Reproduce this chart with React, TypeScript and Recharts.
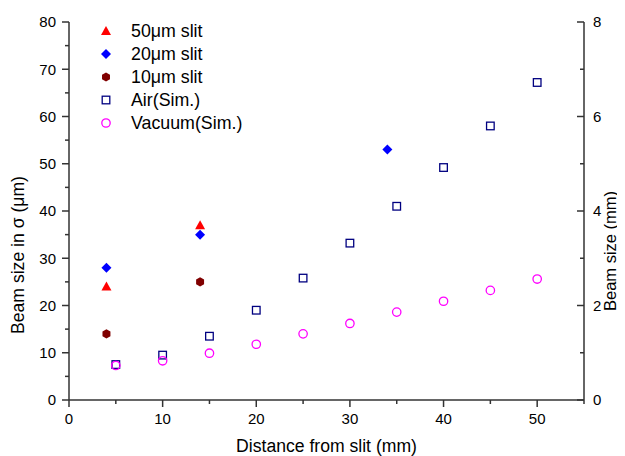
import React from 'react';
import { ScatterChart, Scatter, XAxis, YAxis, Legend } from 'recharts';

// ---- data ----
const seriesNames = ['50μm slit', '20μm slit', '10μm slit', 'Air(Sim.)', 'Vacuum(Sim.)'];

const slit50X = [4, 14];
const slit50Y = [24, 37];
const slit20X = [4, 14, 34];
const slit20Y = [28, 35, 53];
const slit10X = [4, 14];
const slit10Y = [14, 25];

const simX = [5, 10, 15, 20, 25, 30, 35, 40, 45, 50];
const airY = [0.75, 0.95, 1.35, 1.9, 2.58, 3.32, 4.1, 4.92, 5.8, 6.72];
const vacuumY = [0.73, 0.83, 0.99, 1.18, 1.4, 1.62, 1.86, 2.09, 2.32, 2.56];

const xTicks = [0, 5, 10, 15, 20, 25, 30, 35, 40, 45, 50, 55];
const xMajor = [0, 10, 20, 30, 40, 50];
const leftTicks = [0, 5, 10, 15, 20, 25, 30, 35, 40, 45, 50, 55, 60, 65, 70, 75, 80];
const leftMajor = [0, 10, 20, 30, 40, 50, 60, 70, 80];
const rightTicks = [0, 1, 2, 3, 4, 5, 6, 7, 8];
const rightMajor = [0, 2, 4, 6, 8];

const xTitle = 'Distance from slit (mm)';
const leftTitle = 'Beam size in σ (μm)';
const rightTitle = 'Beam size (mm)';

const toPoints = (xs: number[], ys: number[]) => xs.map((x, i) => ({ x, y: ys[i] }));

// ---- styles ----
const FONT = '"Liberation Sans", Arial, Helvetica, sans-serif';
const AXIS = '#333';
const AXW = 1.5;
const RED = '#ff0000';
const BLUE = '#0000ff';
const DARKRED = '#800000';
const NAVY = '#000080';
const MAGENTA = '#ff00ff';

// ---- markers ----
const Tri = ({ cx, cy }: any) => (
  <polygon points={`${cx},${cy - 5} ${cx - 5},${cy + 4} ${cx + 5},${cy + 4}`} fill={RED} />
);
const Dia = ({ cx, cy }: any) => (
  <polygon points={`${cx},${cy - 5} ${cx + 5},${cy} ${cx},${cy + 5} ${cx - 5},${cy}`} fill={BLUE} />
);
const Hex = ({ cx, cy }: any) => {
  const r = 4.6;
  const pts = [0, 60, 120, 180, 240, 300]
    .map((a) => {
      const t = ((a + 30) * Math.PI) / 180;
      return `${cx + r * Math.cos(t)},${cy + r * Math.sin(t)}`;
    })
    .join(' ');
  return <polygon points={pts} fill={DARKRED} />;
};
const Sq = ({ cx, cy }: any) => (
  <rect x={cx - 3.8} y={cy - 3.8} width={7.6} height={7.6} fill="none" stroke={NAVY} strokeWidth={1.3} />
);
const Circ = ({ cx, cy }: any) => (
  <circle cx={cx} cy={cy} r={4.2} fill="none" stroke={MAGENTA} strokeWidth={1.3} />
);
const markers = [Tri, Dia, Hex, Sq, Circ];

// ---- ticks ----
const XTick = (props: any) => {
  const { x, y, payload } = props;
  const v = payload.value;
  const major = xMajor.includes(v);
  return (
    <g>
      <line x1={x} x2={x} y1={y} y2={y + (major ? 7 : 4)} stroke={AXIS} strokeWidth={AXW} />
      {major && (
        <text x={x} y={y + 24} textAnchor="middle" fontSize={15} fontFamily={FONT} fill="#000">
          {v}
        </text>
      )}
    </g>
  );
};

const LeftTick = (props: any) => {
  const { x, y, payload } = props;
  const v = payload.value;
  const major = leftMajor.includes(v);
  return (
    <g>
      <line x1={x - (major ? 7 : 4)} x2={x} y1={y} y2={y} stroke={AXIS} strokeWidth={AXW} />
      {major && (
        <text x={x - 13} y={y} dy="0.35em" textAnchor="end" fontSize={15} fontFamily={FONT} fill="#000">
          {v}
        </text>
      )}
    </g>
  );
};

const RightTick = (props: any) => {
  const { x, y, payload } = props;
  const v = payload.value;
  const major = rightMajor.includes(v);
  return (
    <g>
      <line x1={x - (major ? 7 : 4)} x2={x} y1={y} y2={y} stroke={AXIS} strokeWidth={AXW} />
      {major && (
        <text x={x + 9} y={y} dy="0.35em" textAnchor="start" fontSize={15} fontFamily={FONT} fill="#000">
          {v}
        </text>
      )}
    </g>
  );
};

// ---- titles ----
const XTitle = (p: any) => {
  const vb = p.viewBox;
  return (
    <text x={vb.x + vb.width / 2} y={vb.y + 52} textAnchor="middle" fontSize={17.6} fontFamily={FONT} fill="#000">
      {xTitle}
    </text>
  );
};
const LeftTitle = (p: any) => {
  const vb = p.viewBox;
  const cx = vb.x + 10;
  const cy = vb.y + vb.height / 2 + 44;
  return (
    <text
      x={cx}
      y={cy}
      dy="0.35em"
      textAnchor="middle"
      transform={`rotate(-90 ${cx} ${cy})`}
      fontSize={17.6}
      fontFamily={FONT}
      fill="#000"
    >
      {leftTitle}
    </text>
  );
};
const RightTitle = (p: any) => {
  const vb = p.viewBox;
  const cx = vb.x + 26;
  const cy = vb.y + vb.height / 2 + 40;
  return (
    <text
      x={cx}
      y={cy}
      dy="0.35em"
      textAnchor="middle"
      transform={`rotate(-90 ${cx} ${cy})`}
      fontSize={16.5}
      fontFamily={FONT}
      fill="#000"
    >
      {rightTitle}
    </text>
  );
};

// ---- legend ----
const LegendContent = () => (
  <div style={{ fontFamily: FONT, fontSize: 17.8, color: '#000', lineHeight: '23px' }}>
    {seriesNames.map((name, i) => {
      const M = markers[i];
      return (
        <div key={name} style={{ display: 'flex', alignItems: 'center', height: 23 }}>
          <svg width={16} height={16} style={{ marginRight: 17, flex: 'none' }}>
            <M cx={8} cy={8} />
          </svg>
          <span style={{ whiteSpace: 'nowrap' }}>{name}</span>
        </div>
      );
    })}
  </div>
);

export default function App() {
  return (
    <ScatterChart width={617} height={448} margin={{ top: 14, right: 0, bottom: 0, left: 0 }}>
      <XAxis
        type="number"
        dataKey="x"
        domain={[0, 55]}
        ticks={xTicks}
        interval={0}
        height={56}
        tickSize={0}
        tickMargin={0}
        tickLine={false}
        tick={<XTick />}
        axisLine={{ stroke: AXIS, strokeWidth: AXW }}
        label={<XTitle />}
      />
      <YAxis
        yAxisId="left"
        type="number"
        dataKey="y"
        domain={[0, 80]}
        ticks={leftTicks}
        interval={0}
        width={61}
        tickSize={0}
        tickMargin={0}
        tickLine={false}
        tick={<LeftTick />}
        axisLine={{ stroke: AXIS, strokeWidth: AXW }}
        label={<LeftTitle />}
      />
      <YAxis
        yAxisId="right"
        orientation="right"
        type="number"
        dataKey="y"
        domain={[0, 8]}
        ticks={rightTicks}
        interval={0}
        width={41}
        tickSize={0}
        tickMargin={0}
        tickLine={false}
        tick={<RightTick />}
        axisLine={{ stroke: AXIS, strokeWidth: AXW }}
        label={<RightTitle />}
      />
      <Legend
        layout="vertical"
        align="center"
        verticalAlign="middle"
        content={<LegendContent />}
        wrapperStyle={{ left: 90, top: 11.5, width: 200, height: 'auto' }}
      />
      <Scatter name={seriesNames[0]} yAxisId="left" data={toPoints(slit50X, slit50Y)} shape={<Tri />} isAnimationActive={false} />
      <Scatter name={seriesNames[1]} yAxisId="left" data={toPoints(slit20X, slit20Y)} shape={<Dia />} isAnimationActive={false} />
      <Scatter name={seriesNames[2]} yAxisId="left" data={toPoints(slit10X, slit10Y)} shape={<Hex />} isAnimationActive={false} />
      <Scatter name={seriesNames[3]} yAxisId="right" data={toPoints(simX, airY)} shape={<Sq />} isAnimationActive={false} />
      <Scatter name={seriesNames[4]} yAxisId="right" data={toPoints(simX, vacuumY)} shape={<Circ />} isAnimationActive={false} />
    </ScatterChart>
  );
}
